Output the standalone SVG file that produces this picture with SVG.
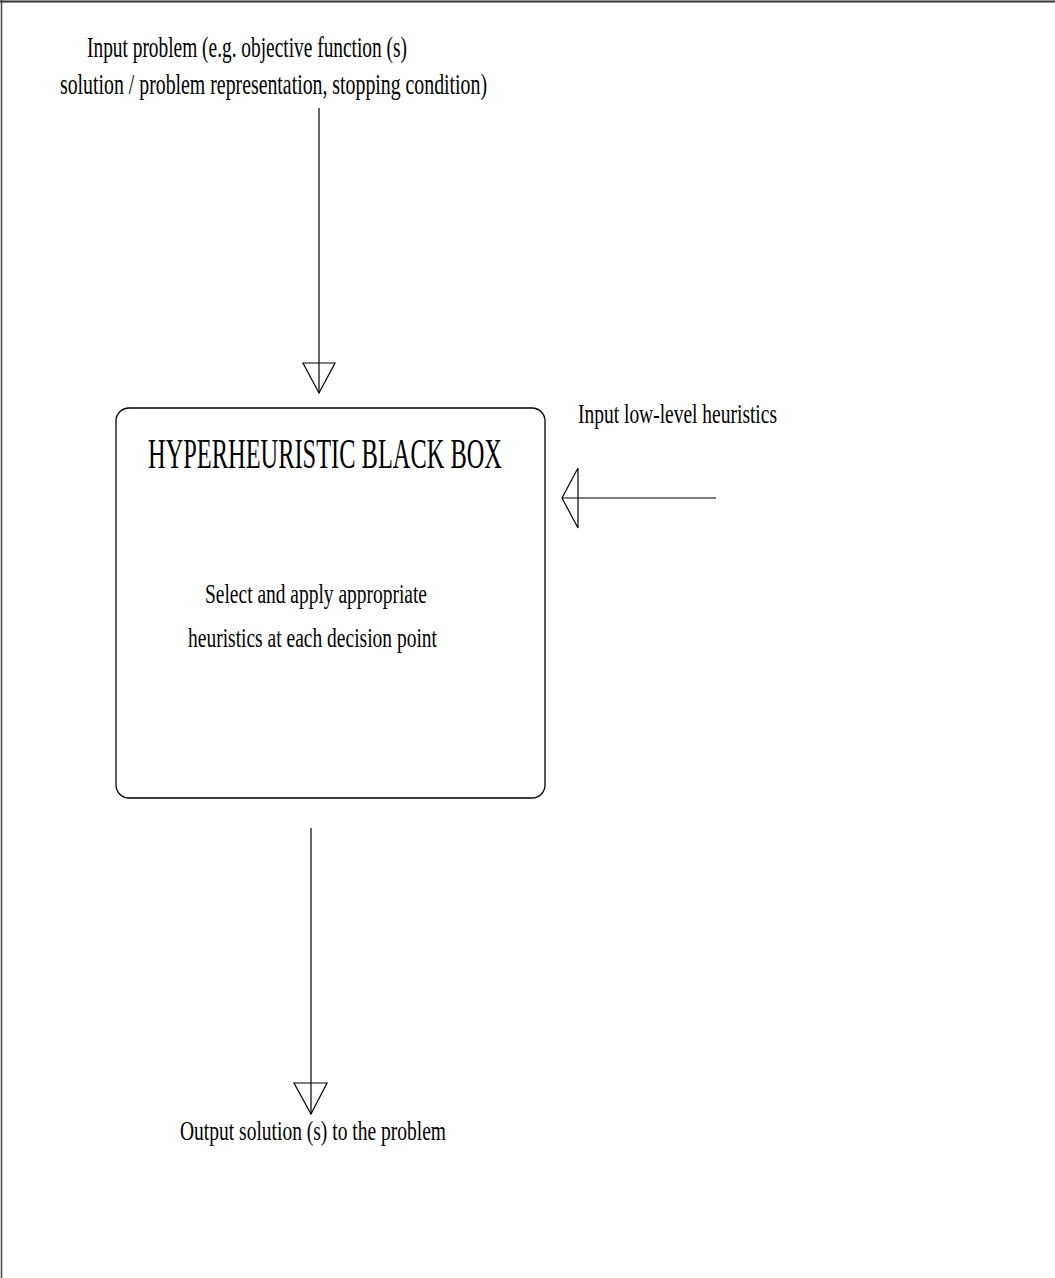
<svg xmlns="http://www.w3.org/2000/svg" width="1055" height="1278" viewBox="0 0 1055 1278">
<style>
text{font-family:"Liberation Serif","Times New Roman",serif;fill:#000}
.ln{stroke:#000;stroke-width:1.2;fill:none}
.tri{stroke:#000;stroke-width:1.2;fill:none}
</style>
<rect width="1055" height="1278" fill="#fff"/>
<line x1="0" y1="1.5" x2="1055" y2="1.5" stroke="#333" stroke-width="2"/>
<line x1="1.5" y1="0" x2="1.5" y2="1278" stroke="#444" stroke-width="1.5"/>
<g id="input-problem">
<text x="87" y="57" font-size="29" textLength="320" lengthAdjust="spacingAndGlyphs">Input problem (e.g. objective function (s)</text>
<text x="60" y="94" font-size="29" textLength="427" lengthAdjust="spacingAndGlyphs">solution / problem representation, stopping condition)</text>
</g>
<g id="black-box">
<rect x="116" y="408" width="429" height="390" rx="13" ry="13" fill="#fff" stroke="#000" stroke-width="1.3"/>
<text x="148" y="468" font-size="42" textLength="354" lengthAdjust="spacingAndGlyphs">HYPERHEURISTIC BLACK BOX</text>
<text x="205" y="603" font-size="28" textLength="222" lengthAdjust="spacingAndGlyphs">Select and apply appropriate</text>
<text x="188" y="647" font-size="28" textLength="249" lengthAdjust="spacingAndGlyphs">heuristics at each decision point</text>
</g>
<g id="low-level">
<text x="578" y="423" font-size="28" textLength="199" lengthAdjust="spacingAndGlyphs">Input low-level heuristics</text>
</g>
<g id="output">
<text x="180" y="1140" font-size="28" textLength="266" lengthAdjust="spacingAndGlyphs">Output solution (s) to the problem</text>
</g>
<g id="connectors">
<line class="ln" x1="319" y1="108" x2="319" y2="393"/>
<polygon class="tri" points="303,363 335,363 319,393"/>
<line class="ln" x1="562" y1="498" x2="716" y2="498"/>
<polygon class="tri" points="578,468 578,528 562,498"/>
<line class="ln" x1="311" y1="828" x2="311" y2="1114"/>
<polygon class="tri" points="294,1083 327,1083 311,1114"/>
</g>
</svg>
